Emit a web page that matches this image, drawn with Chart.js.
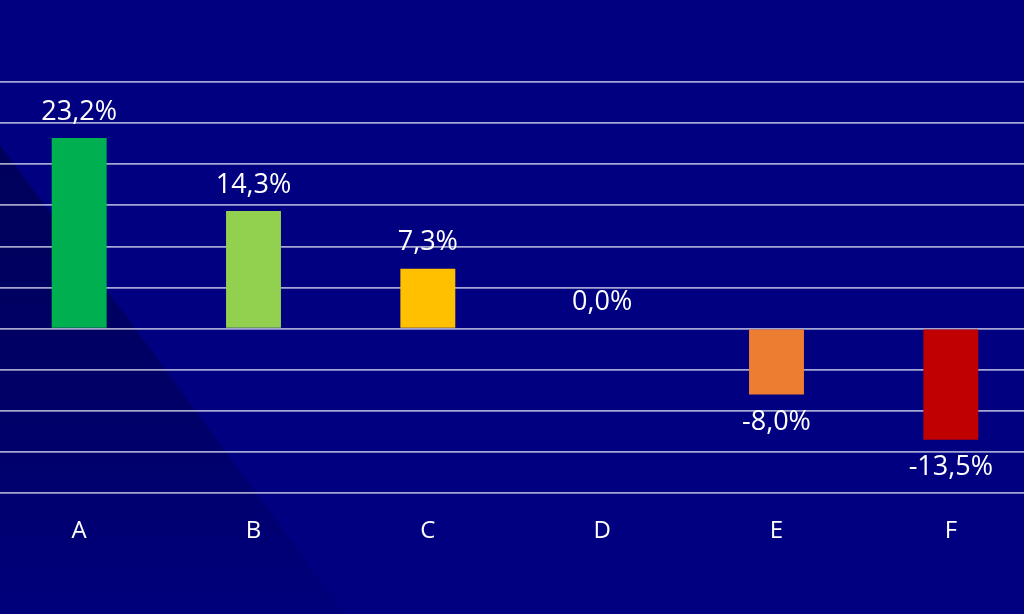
<!DOCTYPE html>
<html>
<head>
<meta charset="utf-8">
<script src="https://cdn.jsdelivr.net/npm/chart.js@4"></script>
<style>
  html, body { margin: 0; padding: 0; background: #000080; overflow: hidden; }
  #wrap { position: absolute; left: -8px; top: 0; width: 1046px; height: 614px; }
</style>
</head>
<body>
<div id="wrap"><canvas id="chart"></canvas></div>
<script>
// chart data
const categories = ['A', 'B', 'C', 'D', 'E', 'F'];
const values = [23.2, 14.3, 7.3, 0.0, -8.0, -13.5];
const barColors = ['#00B050', '#92D050', '#FFC000', '#FFC000', '#ED7D31', '#C00000'];
const yTicks = [-20, -15, -10, -5, 0, 5, 10, 15, 20, 25, 30];

const FONT = '"Open Sans", "DejaVu Sans", sans-serif';

// background with darker diagonal wedge on the left
const backdrop = {
  id: 'backdrop',
  beforeDraw(chart) {
    const ctx = chart.ctx;
    const w = chart.width, h = chart.height;
    ctx.save();
    ctx.fillStyle = '#000080';
    ctx.fillRect(0, 0, w, h);
    const g = ctx.createLinearGradient(0, 145, 0, h);
    g.addColorStop(0, 'rgba(0,0,40,0.42)');
    g.addColorStop(0.5, 'rgba(0,0,40,0.3)');
    g.addColorStop(1, 'rgba(0,0,40,0.06)');
    ctx.fillStyle = g;
    ctx.beginPath();
    ctx.moveTo(8, 145);
    ctx.lineTo(8 + 345, h);
    ctx.lineTo(0, h);
    ctx.lineTo(0, 145);
    ctx.closePath();
    ctx.fill();
    ctx.restore();
  }
};

// value labels above positive bars, below negative ones
const valueLabels = {
  id: 'valueLabels',
  afterDatasetsDraw(chart) {
    const ctx = chart.ctx;
    const meta = chart.getDatasetMeta(0);
    ctx.save();
    ctx.fillStyle = '#ffffff';
    ctx.font = '27px ' + FONT;
    ctx.textAlign = 'center';
    ctx.textBaseline = 'middle';
    meta.data.forEach((bar, i) => {
      const v = values[i];
      const txt = v.toFixed(1).replace('.', ',') + '%';
      const y = v < 0 ? bar.y + 28 : bar.y - 26;
      ctx.fillText(txt, bar.x, y);
    });
    ctx.restore();
  }
};

new Chart(document.getElementById('chart'), {
  type: 'bar',
  data: {
    labels: categories,
    datasets: [{
      data: values,
      backgroundColor: barColors,
      borderWidth: 0,
      categoryPercentage: 1,
      barPercentage: 0.315
    }]
  },
  options: {
    responsive: true,
    maintainAspectRatio: false,
    animation: false,
    layout: { padding: { top: 82, bottom: 44, left: 0, right: 0 } },
    plugins: {
      legend: { display: false },
      tooltip: { enabled: false }
    },
    scales: {
      x: {
        grid: { display: false, drawTicks: false },
        border: { display: false },
        ticks: { color: '#ffffff', font: { family: FONT, size: 24 }, padding: 24 }
      },
      y: {
        min: -20,
        max: 30,
        afterBuildTicks(scale) { scale.ticks = yTicks.map(v => ({ value: v })); },
        grid: { color: 'rgba(220,220,240,0.75)', lineWidth: 1.8, drawTicks: false },
        border: { display: false },
        ticks: { display: false }
      }
    }
  },
  plugins: [backdrop, valueLabels]
});
</script>
</body>
</html>
